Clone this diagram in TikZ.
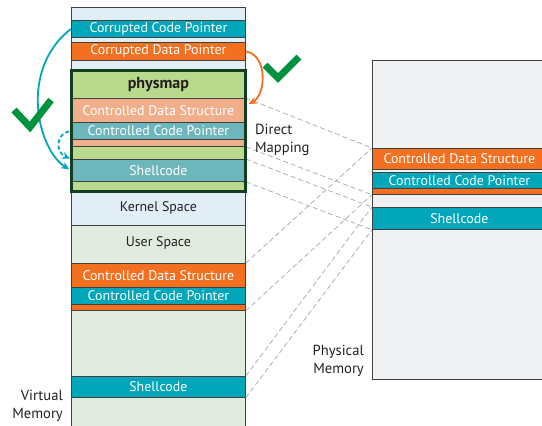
\documentclass[tikz,border=0pt]{standalone}
\usepackage{fontspec}
\setmainfont{PT Sans}
\usetikzlibrary{arrows.meta}

\definecolor{codeteal}{HTML}{00A6B9}
\definecolor{dataorange}{HTML}{F37021}
\definecolor{kernblue}{HTML}{E2EEF6}
\definecolor{usergreen}{HTML}{E1EBE0}
\definecolor{mapgreen}{HTML}{B9D98C}
\definecolor{mapsalmon}{HTML}{F1AE8B}
\definecolor{mapteal}{HTML}{6DB6BB}
\definecolor{mapborder}{HTML}{123D1E}
\definecolor{tickgreen}{HTML}{00923F}
\definecolor{physgray}{HTML}{F0F1F3}
\definecolor{inkgray}{HTML}{231F20}

\tikzset{
  band/.style={draw=black!75, line width=0.8pt, minimum width=174pt, inner sep=0pt,
    anchor=north west, text=white, font=\fontsize{13.9}{14}\selectfont},
  darkband/.style={band, text=inkgray},
  mapline/.style={draw=black!35, dash pattern=on 5pt off 3pt, line width=0.7pt},
  tick/.style={draw=tickgreen, line width=7pt, miter limit=4},
  jump/.style={line width=1.8pt, -{Stealth[length=8pt,width=7pt]}},
  memlabel/.style={text=inkgray, font=\fontsize{14.6}{18.5}\selectfont, inner sep=0pt}
}

\begin{document}
\begin{tikzpicture}[x=1pt,y=-1pt]
\useasboundingbox (0,0) rectangle (542,426);

% virtual memory
\node[band, fill=kernblue, minimum height=13] (vtop) at (71,7) {};
\node[band, fill=codeteal, minimum height=17] (vccp) at (71,20) {Corrupted Code Pointer};
\node[band, fill=kernblue, minimum height=5] (vgap) at (71,37) {};
\node[band, fill=dataorange, minimum height=18] (vcdp) at (71,42) {Corrupted Data Pointer};
\node[band, fill=kernblue, minimum height=10] (vpre) at (71,60) {};
\node[darkband, fill=mapgreen, minimum height=28, font=\fontsize{16}{16}\selectfont\bfseries] (phead) at (71,70) {physmap};
\node[band, fill=mapsalmon, minimum height=24] (pcds) at (71,98) {Controlled Data Structure};
\node[band, fill=mapteal, minimum height=17] (pccp) at (71,122) {Controlled Code Pointer};
\node[band, fill=mapsalmon, minimum height=7] (pthin) at (71,139) {};
\node[band, fill=mapgreen, minimum height=13] (pgap) at (71,146) {};
\node[band, fill=mapteal, minimum height=22] (psh) at (71,159) {Shellcode};
\node[band, fill=mapgreen, minimum height=10] (pend) at (71,181) {};
\node[darkband, fill=kernblue, minimum height=34] (kern) at (71,191) {Kernel Space};
\node[darkband, fill=usergreen, minimum height=38, text depth=6pt] (user) at (71,225) {User Space};
\node[band, fill=dataorange, minimum height=24] (ucds) at (71,263) {Controlled Data Structure};
\node[band, fill=codeteal, minimum height=17] (uccp) at (71,287) {Controlled Code Pointer};
\node[band, fill=dataorange, minimum height=6] (uthin) at (71,304) {};
\node[band, fill=usergreen, minimum height=66] (ufree) at (71,310) {};
\node[band, fill=codeteal, minimum height=21] (ush) at (71,376) {Shellcode};
\node[band, fill=usergreen, minimum height=34] (ubot) at (71,397) {};

% physical memory
\node[band, fill=physgray, minimum height=319] (phys) at (372,60) {};
\node[band, fill=dataorange, minimum height=21] (phcds) at (372,148) {Controlled Data Structure};
\node[band, fill=codeteal, minimum height=16] (phccp) at (372,172) {Controlled Code Pointer};
\node[band, fill=dataorange, minimum height=6] (phthin) at (372,188) {};
\node[band, fill=codeteal, minimum height=22] (phsh) at (372,207) {Shellcode};

% direct mapping
\draw[mapline] (pcds.north east) -- (phcds.north west);
\draw[mapline] (pthin.south east) -- (phthin.south west);
\draw[mapline] (psh.north east) -- (phsh.north west);
\draw[mapline] (psh.south east) -- (phsh.south west);
\draw[mapline] (ucds.north east) -- (phcds.north west);
\draw[mapline] (uthin.south east) -- (phthin.south west);
\draw[mapline] (ush.north east) -- (phsh.north west);
\draw[mapline] (ush.south east) -- (phsh.south west);

\draw[mapborder, line width=3pt] (phead.north west) rectangle (pend.south east);

\node[memlabel, align=left, anchor=west] (dmap) at (255,140) {Direct\\Mapping};
\node[memlabel, align=right, anchor=east] (pmem) at (364,361) {Physical\\Memory};
\node[memlabel, align=right, anchor=east] (vmem) at (63,406) {Virtual\\Memory};

% exploit paths
\draw[jump, codeteal, shorten >=2pt] (vccp.west) .. controls (18,70) and (38,150) .. (psh.west);
\draw[jump, codeteal, dash pattern=on 4pt off 2.5pt, shorten <=2pt, shorten >=1pt] (pccp.west) .. controls (56,134) and (55,152) .. (psh.north west);
\draw[jump, dataorange] (vcdp.east) .. controls (268,55) and (266,95) .. ([xshift=3pt,yshift=-6pt]pcds.north east);

\draw[tick] (14,110) -- (30,127) -- (51,100);
\draw[tick] (265,65) -- (278,78) -- (299,57);
\end{tikzpicture}
\end{document}
